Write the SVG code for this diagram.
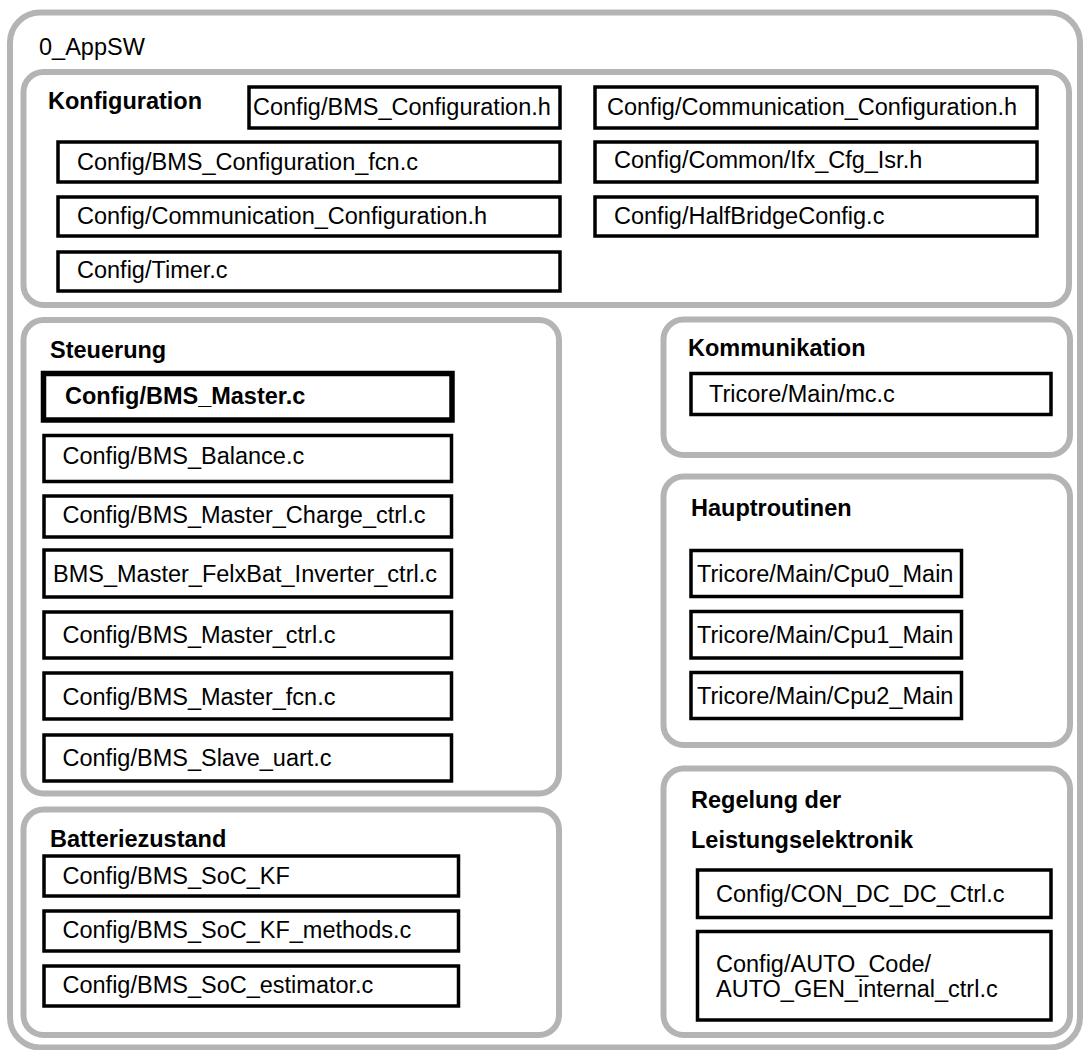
<svg xmlns="http://www.w3.org/2000/svg" width="1083" height="1050" viewBox="0 0 1083 1050">
  <style>
    .panel { fill: #ffffff; stroke: #b4b4b4; stroke-width: 6; }
    .box { fill: #ffffff; stroke: #000000; stroke-width: 3.5; }
    .box-main { fill: #ffffff; stroke: #000000; stroke-width: 5.5; }
    text { font-family: "Liberation Sans", Arial, sans-serif; font-size: 23.5px; fill: #000000; }
    .head { font-weight: bold; }
  </style>
  <rect width="1083" height="1050" fill="#ffffff"/>

  <!-- application software frame -->
  <g id="appsw">
    <rect class="panel" x="10" y="12.5" width="1070" height="1035" rx="30"/>
    <text x="39" y="55">0_AppSW</text>
  </g>

  <!-- configuration files -->
  <g id="konfiguration">
    <rect class="panel" x="23.5" y="72" width="1045.5" height="233" rx="20"/>
    <text class="head" x="48" y="109">Konfiguration</text>
  </g>
  <g id="cfg-bms-configuration-h">
    <rect class="box" x="249" y="87" width="311" height="41"/>
    <text x="253" y="115">Config/BMS_Configuration.h</text>
  </g>
  <g id="cfg-bms-configuration-fcn">
    <rect class="box" x="58" y="142" width="502" height="40"/>
    <text x="77" y="170">Config/BMS_Configuration_fcn.c</text>
  </g>
  <g id="cfg-communication-left">
    <rect class="box" x="58" y="197" width="502" height="39"/>
    <text x="77" y="224">Config/Communication_Configuration.h</text>
  </g>
  <g id="cfg-timer">
    <rect class="box" x="58" y="252" width="502" height="39"/>
    <text x="77" y="278">Config/Timer.c</text>
  </g>
  <g id="cfg-communication-right">
    <rect class="box" x="595" y="87" width="442" height="41"/>
    <text x="607" y="115">Config/Communication_Configuration.h</text>
  </g>
  <g id="cfg-ifx-cfg-isr">
    <rect class="box" x="595" y="142" width="442" height="40"/>
    <text x="614" y="168">Config/Common/Ifx_Cfg_Isr.h</text>
  </g>
  <g id="cfg-halfbridge">
    <rect class="box" x="595" y="197" width="442" height="39"/>
    <text x="614" y="224">Config/HalfBridgeConfig.c</text>
  </g>

  <!-- control -->
  <g id="steuerung">
    <rect class="panel" x="23.5" y="320" width="535.5" height="473.5" rx="20"/>
    <text class="head" x="50" y="358">Steuerung</text>
  </g>
  <g id="st-bms-master">
    <rect class="box-main" x="43.5" y="373.5" width="408.5" height="46.5"/>
    <text class="head" x="65" y="404">Config/BMS_Master.c</text>
  </g>
  <g id="st-bms-balance">
    <rect class="box" x="44" y="435.5" width="407.5" height="46"/>
    <text x="62.5" y="464">Config/BMS_Balance.c</text>
  </g>
  <g id="st-charge-ctrl">
    <rect class="box" x="44" y="496" width="407.5" height="41"/>
    <text x="62.5" y="523">Config/BMS_Master_Charge_ctrl.c</text>
  </g>
  <g id="st-inverter-ctrl">
    <rect class="box" x="44" y="550" width="407.5" height="47"/>
    <text x="53" y="582">BMS_Master_FelxBat_Inverter_ctrl.c</text>
  </g>
  <g id="st-master-ctrl">
    <rect class="box" x="44" y="612" width="407.5" height="46"/>
    <text x="62.5" y="643">Config/BMS_Master_ctrl.c</text>
  </g>
  <g id="st-master-fcn">
    <rect class="box" x="44" y="673" width="407.5" height="46"/>
    <text x="62.5" y="705">Config/BMS_Master_fcn.c</text>
  </g>
  <g id="st-slave-uart">
    <rect class="box" x="44" y="735" width="407.5" height="46"/>
    <text x="62.5" y="766">Config/BMS_Slave_uart.c</text>
  </g>

  <!-- battery state -->
  <g id="batteriezustand">
    <rect class="panel" x="23.5" y="809.5" width="535.5" height="225.5" rx="20"/>
    <text class="head" x="50" y="847">Batteriezustand</text>
  </g>
  <g id="bz-soc-kf">
    <rect class="box" x="44" y="856" width="414.5" height="40"/>
    <text x="62.5" y="884">Config/BMS_SoC_KF</text>
  </g>
  <g id="bz-soc-kf-methods">
    <rect class="box" x="44" y="911" width="414.5" height="40"/>
    <text x="62.5" y="938">Config/BMS_SoC_KF_methods.c</text>
  </g>
  <g id="bz-soc-estimator">
    <rect class="box" x="44" y="966" width="414.5" height="40"/>
    <text x="62.5" y="993">Config/BMS_SoC_estimator.c</text>
  </g>

  <!-- communication -->
  <g id="kommunikation">
    <rect class="panel" x="663.5" y="319.5" width="406.5" height="135.5" rx="20"/>
    <text class="head" x="688" y="356">Kommunikation</text>
  </g>
  <g id="ko-mc">
    <rect class="box" x="691" y="373.5" width="360" height="41"/>
    <text x="709" y="402">Tricore/Main/mc.c</text>
  </g>

  <!-- main routines -->
  <g id="hauptroutinen">
    <rect class="panel" x="663.5" y="476.5" width="406.5" height="268.5" rx="20"/>
    <text class="head" x="691" y="516">Hauptroutinen</text>
  </g>
  <g id="hr-cpu0">
    <rect class="box" x="691" y="550.5" width="270.5" height="46"/>
    <text x="697" y="582">Tricore/Main/Cpu0_Main</text>
  </g>
  <g id="hr-cpu1">
    <rect class="box" x="691" y="611.5" width="270.5" height="46.5"/>
    <text x="697" y="643">Tricore/Main/Cpu1_Main</text>
  </g>
  <g id="hr-cpu2">
    <rect class="box" x="691" y="672.5" width="270.5" height="46"/>
    <text x="697" y="704">Tricore/Main/Cpu2_Main</text>
  </g>

  <!-- power electronics control -->
  <g id="regelung">
    <rect class="panel" x="663.5" y="768.5" width="406.5" height="266.5" rx="20"/>
    <text class="head" x="691" y="808">Regelung der</text>
    <text class="head" x="691" y="848">Leistungselektronik</text>
  </g>
  <g id="re-con-dc-dc">
    <rect class="box" x="697.5" y="870" width="353.5" height="47.5"/>
    <text x="716" y="902">Config/CON_DC_DC_Ctrl.c</text>
  </g>
  <g id="re-auto-gen">
    <rect class="box" x="697.5" y="931.5" width="353.5" height="88.5"/>
    <text x="716" y="972">Config/AUTO_Code/</text>
    <text x="716" y="997">AUTO_GEN_internal_ctrl.c</text>
  </g>
</svg>
